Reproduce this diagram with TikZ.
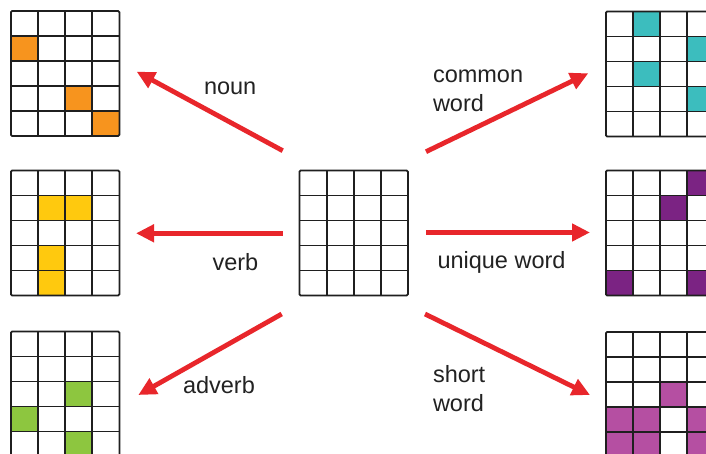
\documentclass[tikz,border=0pt]{standalone}
\usepackage{fontspec}
\setmainfont{Liberation Sans}
\usetikzlibrary{arrows.meta}
\definecolor{cOrange}{HTML}{F7941E}
\definecolor{cYellow}{HTML}{FFC90E}
\definecolor{cGreen}{HTML}{8DC63F}
\definecolor{cTeal}{HTML}{3CBDBE}
\definecolor{cPurple}{HTML}{7B2383}
\definecolor{cMagenta}{HTML}{B54FA2}
\definecolor{arrowred}{HTML}{E8262B}
\definecolor{txt}{HTML}{222222}
\newcommand\gcw{27.1}
\newcommand\grh{25}
\tikzset{
  gridbox/.style={draw=none, minimum width=108.4pt, minimum height=125pt, inner sep=0pt, outer sep=0pt, anchor=north west},
  gridline/.style={line width=1.8pt, draw=black!88},
  redarrow/.style={draw=arrowred, line width=4.8pt, -{Triangle[length=18pt,width=17pt]}},
  lbl/.style={font=\fontsize{23.5}{28.8}\selectfont, text=txt, inner sep=0pt, outer sep=0pt, anchor=base west, align=left},
}
\newcommand\wordgrid[5]{%
  \node[gridbox] (#1) at (#2,#3) {};
  \if\relax\detokenize{#5}\relax\else
    \foreach \c/\r in {#5} {\fill[#4] ({#2+\c*\gcw},{#3+\r*\grh}) rectangle +(\gcw,\grh);}
  \fi
  \foreach \i in {1,2,3} {\draw[gridline] ({#2+\i*\gcw},#3) -- +(0,{5*\grh});}
  \foreach \j in {1,2,3,4} {\draw[gridline] (#2,{#3+\j*\grh}) -- +({4*\gcw},0);}
  \draw[gridline, rounded corners=1.2pt] (#2,#3) rectangle +({4*\gcw},{5*\grh});
}
\begin{document}
\begin{tikzpicture}[x=1pt,y=-1pt]
\path[use as bounding box] (0,0) rectangle (706,454);
\clip (0,0) rectangle (706,454);
\fill[white] (0,0) rectangle (706,454);

% grids
\wordgrid{noun}{11}{11}{cOrange}{0/1,2/3,3/4}
\wordgrid{verb}{11}{170.5}{cYellow}{1/1,2/1,1/3,1/4}
\wordgrid{adverb}{11}{331.5}{cGreen}{2/2,0/3,2/4}
\wordgrid{center}{299.5}{170.5}{white}{}
\wordgrid{common}{606}{11.5}{cTeal}{1/0,3/1,1/2,3/3}
\wordgrid{unique}{606}{170.5}{cPurple}{3/0,2/1,0/4,3/4}
\wordgrid{short}{606}{332}{cMagenta}{2/2,0/3,1/3,3/3,0/4,1/4,3/4}

% arrow ends
\coordinate (nounS) at (282.7,150.7);   \coordinate (nounE) at (136.7,71.7);
\coordinate (verbS) at (282.7,233.3);   \coordinate (verbE) at (136,233.3);
\coordinate (adverbS) at (281.7,314);   \coordinate (adverbE) at (138.3,395);
\coordinate (commonS) at (426,151.7);   \coordinate (commonE) at (588.3,73.3);
\coordinate (uniqueS) at (426,232.5);   \coordinate (uniqueE) at (590,232.5);
\coordinate (shortS) at (425,314);      \coordinate (shortE) at (590,395);

\draw[redarrow] (nounS) -- (nounE);
\draw[redarrow] (verbS) -- (verbE);
\draw[redarrow] (adverbS) -- (adverbE);
\draw[redarrow] (commonS) -- (commonE);
\draw[redarrow] (uniqueS) -- (uniqueE);
\draw[redarrow] (shortS) -- (shortE);

% labels (base anchor of a two-line label is its last line)
\node[lbl] (lnoun) at (204,95) {noun};
\node[lbl] (lverb) at (212.5,270) {verb};
\node[lbl] (ladverb) at (183,393) {adverb};
\node[lbl] (lcommon) at (433,111.7) {common\\word};
\node[lbl] (lunique) at (437.5,268.3) {unique word};
\node[lbl] (lshort) at (433,411) {short\\word};
\end{tikzpicture}
\end{document}
